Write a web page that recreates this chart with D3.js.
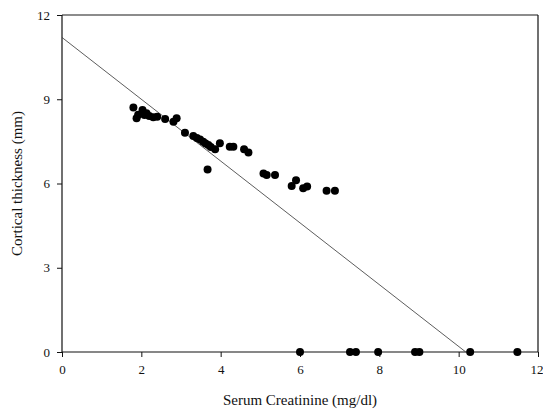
<!DOCTYPE html>
<html><head><meta charset="utf-8">
<script src="https://cdn.jsdelivr.net/npm/d3@7"></script>
<style>body{margin:0;background:#fff}svg{display:block}text{font-family:"Liberation Serif","Times New Roman",serif;fill:#111}</style>
</head><body><svg id="c" width="543" height="411"></svg>
<script>
const xTicks=[0,2,4,6,8,10,12];
const yTicks=[0,3,6,9,12];
const creatinine=[1.80,1.88,1.92,2.03,2.08,2.13,2.20,2.30,2.40,2.60,2.81,2.89,3.10,3.31,3.40,3.48,3.56,3.62,3.69,3.75,3.86,3.98,4.23,4.32,4.59,4.70,3.67,5.08,5.16,5.37,5.79,5.90,6.08,6.18,6.67,6.88,6.00,7.26,7.41,7.97,8.90,9.01,10.29,11.48];
const thickness=[8.71,8.32,8.45,8.62,8.44,8.50,8.40,8.36,8.38,8.30,8.20,8.32,7.81,7.69,7.62,7.57,7.49,7.42,7.37,7.30,7.22,7.43,7.31,7.31,7.22,7.10,6.50,6.36,6.30,6.30,5.91,6.12,5.83,5.89,5.74,5.74,0,0,0,0,0,0,0,0];
const fitX=[0,10.18];
const fitY=[11.2,0];

const svg=d3.select("#c");
const m={l:62,r:538,t:15,b:352};
const x=d3.scaleLinear().domain([0,12]).range([m.l,m.r]);
const y=d3.scaleLinear().domain([0,12]).range([m.b,m.t]);

svg.append("g").attr("transform",`translate(0,${m.b})`)
 .call(d3.axisBottom(x).tickValues(xTicks).tickSize(5).tickPadding(8).tickFormat(d3.format("d")))
 .call(g=>{g.select(".domain").remove();g.selectAll("line").attr("stroke","#111");
   g.selectAll("text").style("font-size","13px").filter(d=>d===12).attr("text-anchor","end").attr("dx","5");});
svg.append("g").attr("transform",`translate(${m.l},0)`)
 .call(d3.axisLeft(y).tickValues(yTicks).tickSize(5).tickPadding(7).tickFormat(d3.format("d")))
 .call(g=>{g.select(".domain").remove();g.selectAll("line").attr("stroke","#111");g.selectAll("text").style("font-size","13px");});

// frame
svg.append("line").attr("x1",m.l).attr("x2",m.r).attr("y1",m.t).attr("y2",m.t).attr("stroke","#666").attr("stroke-width",1.5);
svg.append("line").attr("x1",m.r).attr("x2",m.r).attr("y1",m.t).attr("y2",m.b).attr("stroke","#111").attr("stroke-width",1.2);
svg.append("line").attr("x1",m.l).attr("x2",m.l).attr("y1",m.t).attr("y2",m.b).attr("stroke","#111").attr("stroke-width",1.2);
svg.append("line").attr("x1",m.l).attr("x2",m.r).attr("y1",m.b).attr("y2",m.b).attr("stroke","#111").attr("stroke-width",1.2);

// regression line
svg.append("path").datum(fitX.map((d,i)=>[d,fitY[i]]))
 .attr("d",d3.line().x(d=>x(d[0])).y(d=>y(d[1])))
 .attr("stroke","#333").attr("stroke-width",0.8).attr("fill","none");

svg.append("g").selectAll("circle").data(creatinine).join("circle")
 .attr("cx",d=>x(d)).attr("cy",(d,i)=>y(thickness[i])).attr("r",4).attr("fill","#000");

svg.append("text").attr("x",(m.l+m.r)/2).attr("y",405).attr("text-anchor","middle").style("font-size","15px").text("Serum Creatinine (mg/dl)");
svg.append("text").attr("transform",`translate(22,${(m.t+m.b)/2}) rotate(-90)`).attr("text-anchor","middle").style("font-size","15px").text("Cortical thickness (mm)");
</script></body></html>
